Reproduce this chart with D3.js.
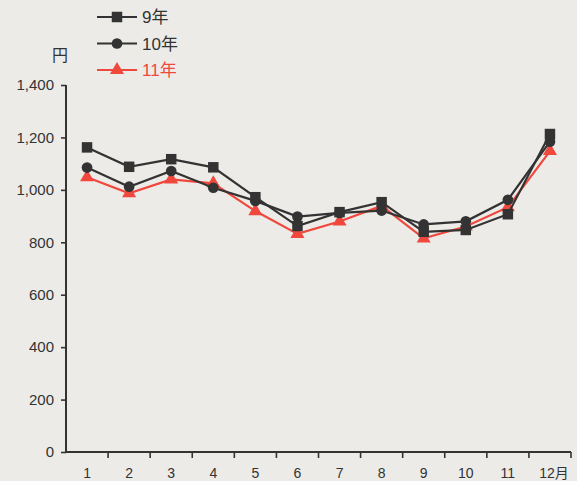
<!DOCTYPE html>
<html>
<head>
<meta charset="utf-8">
<script src="https://cdn.jsdelivr.net/npm/d3@7"></script>
<style>
  body { margin: 0; background: #ecebe8; }
  svg { display: block; }
  text { font-family: "Liberation Sans", Arial, "Noto Sans CJK JP", sans-serif; fill: #333; }
</style>
</head>
<body>
<div id="chart"></div>
<script>
// data
const months = ["1", "2", "3", "4", "5", "6", "7", "8", "9", "10", "11", "12"];
const monthLabels = ["1", "2", "3", "4", "5", "6", "7", "8", "9", "10", "11", "12月"];
const y9 = [1162, 1088, 1117, 1086, 972, 862, 915, 953, 840, 847, 907, 1213];
const y10 = [1085, 1012, 1072, 1008, 958, 898, 912, 921, 868, 880, 962, 1184];
const y11 = [1048, 987, 1040, 1025, 919, 832, 879, 939, 815, 860, 934, 1148];
const seriesNames = ["9年", "10年", "11年"];
const yTicks = [0, 200, 400, 600, 800, 1000, 1200, 1400];

//svg container
const svgWidth = 577
const svgHeight = 481
const dark = "#333333"
const red = "#f0483c"

const svg = d3.select("#chart")
    .append("svg")
    .attr("width", svgWidth)
    .attr("height", svgHeight)

const xScale = d3.scaleBand()
    .domain(months)
    .range([66, 571])
    .padding(0)

const yScale = d3.scaleLinear()
    .domain([0, 1400])
    .range([452, 85])

// y axis
const yAxis = d3.axisLeft(yScale)
    .tickValues(yTicks)
    .tickFormat(d3.format(","))
    .tickSize(5)
    .tickPadding(7)

const yG = svg.append("g")
    .attr("transform", `translate(${xScale.range()[0]}, 0)`)
    .call(yAxis)
yG.select(".domain").remove()
yG.append("line")
    .attr("y1", yScale(1400)).attr("y2", yScale(0))
    .attr("stroke", dark).attr("stroke-width", 2)
yG.selectAll(".tick line").attr("stroke", dark).attr("stroke-width", 1.6)
yG.selectAll(".tick text")
    .style("font-size", "15px")
    .attr("fill", dark)

// x axis: ticks on band edges, labels in the middle
const xG = svg.append("g")
    .attr("transform", `translate(0, ${yScale(0)})`)
xG.append("line")
    .attr("x1", xScale.range()[0]).attr("x2", xScale.range()[1])
    .attr("stroke", dark).attr("stroke-width", 2)
const edges = months.map(m => xScale(m)).concat([xScale(months[11]) + xScale.bandwidth()])
xG.selectAll(".edge")
    .data(edges.slice(1))
    .enter()
    .append("line")
    .attr("x1", d => d).attr("x2", d => d)
    .attr("y1", 0).attr("y2", 6)
    .attr("stroke", dark).attr("stroke-width", 1.6)
xG.selectAll(".mlabel")
    .data(months)
    .enter()
    .append("text")
    .attr("x", (d, i) => xScale(d) + xScale.bandwidth() / 2 + (i == 11 ? 4 : 0))
    .attr("y", 26)
    .attr("text-anchor", "middle")
    .style("font-size", "14px")
    .text((d, i) => monthLabels[i])

// unit label
svg.append("text")
    .attr("x", 60).attr("y", 61)
    .attr("text-anchor", "middle")
    .style("font-size", "16px")
    .text("円")

const line = d3.line()
    .x((d, i) => xScale(months[i]) + xScale.bandwidth() / 2)
    .y(d => yScale(d))

const series = [
  { name: seriesNames[0], values: y9, color: dark, shape: d3.symbolSquare, size: 110 },
  { name: seriesNames[1], values: y10, color: dark, shape: d3.symbolCircle, size: 90 },
  { name: seriesNames[2], values: y11, color: red, shape: d3.symbolTriangle, size: 85 }
]

// draw red first so the dark ones sit on top like the original
const drawOrder = [2, 1, 0]
drawOrder.forEach(function(k) {
  const s = series[k]
  svg.append("path")
    .datum(s.values)
    .attr("fill", "none")
    .attr("stroke", s.color)
    .attr("stroke-width", 2.2)
    .attr("d", line)
  svg.append("g")
    .selectAll("path")
    .data(s.values)
    .enter()
    .append("path")
    .attr("transform", (d, i) => `translate(${xScale(months[i]) + xScale.bandwidth() / 2}, ${yScale(d)})`)
    .attr("d", d3.symbol().type(s.shape).size(s.size))
    .attr("fill", s.color)
})

// legend
const legend = svg.append("g")
series.forEach(function(s, i) {
  const ly = 17 + i * 26.5
  legend.append("line")
    .attr("x1", 97).attr("x2", 137)
    .attr("y1", ly).attr("y2", ly)
    .attr("stroke", s.color).attr("stroke-width", 2.2)
  legend.append("path")
    .attr("transform", `translate(117, ${ly})`)
    .attr("d", d3.symbol().type(s.shape).size(s.size))
    .attr("fill", s.color)
  legend.append("text")
    .attr("x", 142).attr("y", ly + 6)
    .style("font-size", "17px")
    .style("fill", i == 2 ? red : dark)
    .text(s.name)
})
</script>
</body>
</html>
